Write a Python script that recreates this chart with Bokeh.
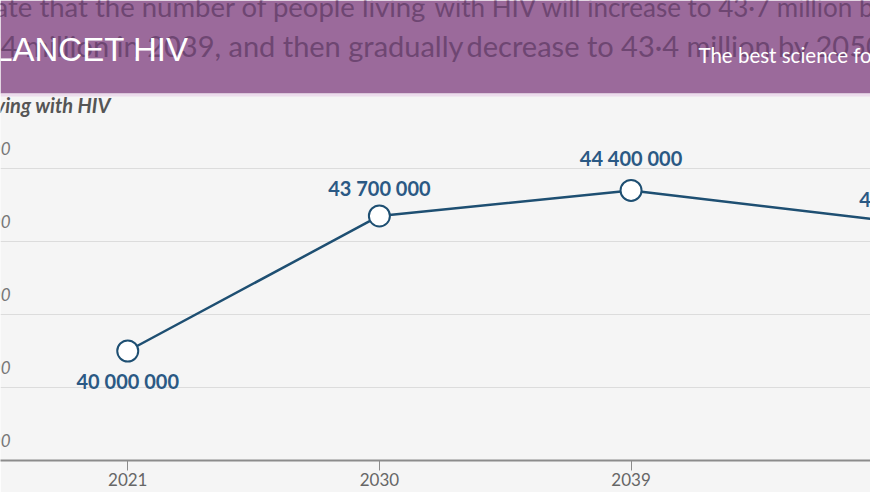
from bokeh.plotting import figure
from bokeh.models import (ColumnDataSource, FixedTicker, Range1d, Label, LabelSet,
                          BoxAnnotation, LinearAxis)
from bokeh.core.properties import value
from bokeh.embed import file_html
from bokeh.resources import INLINE

# ---- data -------------------------------------------------------------
years = [2021, 2030, 2039, 2050]
people = [40_000_000, 43_700_000, 44_400_000, 43_400_000]
point_labels = ["40 000 000", "43 700 000", "44 400 000", "43 400 000"]
x_ticks = [2021, 2030, 2039, 2050]
y_ticks = [37_000_000, 39_000_000, 41_000_000, 43_000_000, 45_000_000]
y_tick_labels = ["37 000 000", "39 000 000", "41 000 000", "43 000 000", "45 000 000"]
y_title = "People living with HIV"
headline_1 = ["ate that the number of people living",
              "with HIV will increase to 43·7 million by 2030,"]
headline_2 = ["44·4 million in 2039, and then gradually",
              "decrease to 43·4 million by 2050."]
journal = "THE LANCET HIV"
tagline = "The best science for better lives"

# label placement (style)
label_dx = [0, 0, 0, -28]
label_dy = [30, -28, -32, -28]

LINE = "#1e4f72"
BG = "#f5f5f5"
HEAD = "#6e4672"

src = ColumnDataSource(dict(year=years, people=people, label=point_labels,
                            dx=label_dx, dy=label_dy))
ysrc = ColumnDataSource(dict(y=y_ticks, t=y_tick_labels))

p = figure(width=870, height=492, output_backend="svg", toolbar_location=None,
           x_range=Range1d(2016.449, 2047.564), y_range=Range1d(37e6, 49.603e6),
           x_axis_location=None, y_axis_location=None,
           min_border_left=0, min_border_right=0, min_border_top=0, min_border_bottom=32,
           background_fill_color=BG, border_fill_color=BG, outline_line_color=None)

p.xgrid.visible = False
p.ygrid.ticker = FixedTicker(ticks=y_ticks)
p.ygrid.grid_line_color = "#dcdcdc"
p.ygrid.grid_line_width = 1

xaxis = LinearAxis(ticker=FixedTicker(ticks=x_ticks))
xaxis.axis_line_color = "#8c8c8c"
xaxis.axis_line_width = 2
xaxis.major_tick_line_color = "#8c8c8c"
xaxis.major_tick_out = 10
xaxis.major_tick_in = 0
xaxis.minor_tick_out = 0
xaxis.minor_tick_in = 0
xaxis.major_label_text_font = "Lato"
xaxis.major_label_text_font_size = "17px"
xaxis.major_label_text_color = "#666666"
xaxis.major_label_standoff = 2
p.add_layout(xaxis, "below")

# y tick labels (sitting above the gridlines, cropped at the left)
p.add_layout(LabelSet(x=10, x_units="screen", y="y", text="t", source=ysrc,
                      y_offset=20, text_align="right", text_baseline="middle",
                      text_font=value("Lato"), text_font_style="italic",
                      text_font_size="17px", text_color="#777777"))

p.line(x="year", y="people", source=src, line_color=LINE, line_width=2.5)
p.scatter(x="year", y="people", source=src, size=21, fill_color="white",
          line_color=LINE, line_width=2)
p.text(x="year", y="people", text="label", source=src, x_offset="dx", y_offset="dy",
       text_align="center", text_baseline="middle", text_font=value("Lato"),
       text_font_style="bold", text_font_size="20px", text_color="#2b5984")

# banner
p.add_layout(BoxAnnotation(bottom=367, bottom_units="screen", fill_color="#9b6a9b",
                           fill_alpha=1, line_color=None))
p.add_layout(BoxAnnotation(bottom=364, top=367, bottom_units="screen", top_units="screen",
                           fill_color="#ecdcec", fill_alpha=1, line_color=None))

def head(txt, x, y, size, align="left"):
    p.add_layout(Label(x=x, y=y, x_units="screen", y_units="screen", text=txt,
                       text_font="Lato", text_font_size=size, text_color=HEAD,
                       text_align=align, text_baseline="middle"))

head(headline_1[0], 426, 460 - 6, "27.5px", "right")
head(headline_1[1], 434, 460 - 6, "26px")
head(headline_2[0], 463, 460 - 45, "29px", "right")
head(headline_2[1], 466, 460 - 45, "29px")

p.add_layout(Label(x=188, y=460 - 49, x_units="screen", y_units="screen", text=journal,
                   text_font="Liberation Sans", text_font_size="33px", text_color="white",
                   text_align="right", text_baseline="middle"))
p.add_layout(Label(x=698, y=460 - 54, x_units="screen", y_units="screen", text=tagline,
                   text_font="Lato", text_font_size="20.5px", text_color="white",
                   text_align="left", text_baseline="middle"))

p.add_layout(Label(x=110, y=460 - 104, x_units="screen", y_units="screen", text=y_title,
                   text_font="Lato", text_font_style="bold italic", text_font_size="20px",
                   text_color="#555555", text_align="right", text_baseline="middle"))

open("out.html", "w").write(file_html(p, INLINE))
